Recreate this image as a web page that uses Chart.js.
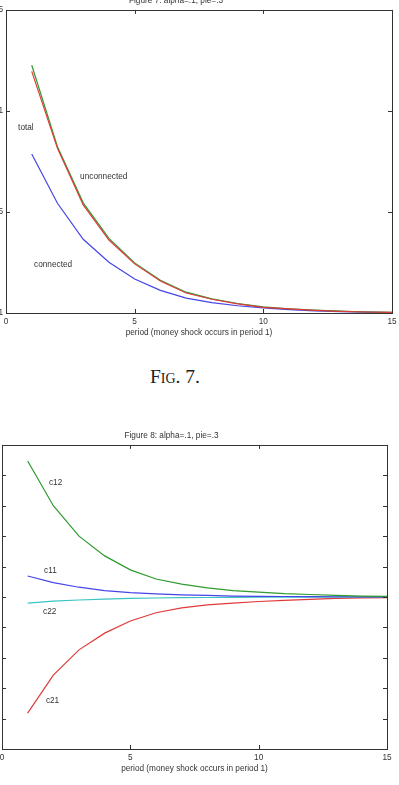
<!DOCTYPE html>
<html>
<head>
<meta charset="utf-8">
<script src="https://cdn.jsdelivr.net/npm/chart.js@4.4.0/dist/chart.umd.min.js"></script>
<style>
  html, body { margin: 0; padding: 0; background: #fff; }
  body { width: 399px; height: 785px; position: relative; overflow: hidden; }
  canvas { position: absolute; }
  #fig7 { left: -40px; top: -6px; }
  #fig8 { left: -44px; top: 421px; }
  #caption7 {
    position: absolute; left: 150px; top: 366px;
    font-family: 'Liberation Serif', 'DejaVu Serif', serif;
    font-size: 19.5px; font-variant: small-caps; color: #222;
    white-space: nowrap;
  }
</style>
</head>
<body>
<canvas id="fig7" width="450" height="350"></canvas>
<div id="caption7">Fig. 7.</div>
<canvas id="fig8" width="450" height="357"></canvas>
<script>
// periods after the money shock
const periods = [1, 2, 3, 4, 5, 6, 7, 8, 9, 10, 11, 12, 13, 14, 15];

// figure 7
const total7 = [1.01226, 1.00823, 1.00545, 1.00369, 1.00248, 1.00162, 1.00103, 1.00070, 1.00047, 1.00030, 1.00021, 1.00014, 1.00009, 1.00005, 1.00003];
const unconnected7 = [1.01196, 1.00815, 1.00535, 1.00361, 1.00243, 1.00158, 1.00099, 1.00068, 1.00045, 1.00028, 1.00020, 1.00013, 1.00008, 1.00005, 1.00003];
const connected7 = [1.00787, 1.00543, 1.00365, 1.00251, 1.00168, 1.00112, 1.00074, 1.00051, 1.00036, 1.00025, 1.00017, 1.00011, 1.00007, 1.00004, 1.00002];
const xTicks = [0, 5, 10, 15];
const yTicks7 = [1, 1.005, 1.01, 1.015];

// figure 8
const c12 = [4.47, 3.0, 2.0, 1.35, 0.89, 0.59, 0.42, 0.30, 0.21, 0.16, 0.11, 0.08, 0.05, 0.03, 0.02];
const c11 = [0.69, 0.47, 0.32, 0.21, 0.14, 0.10, 0.07, 0.05, 0.03, 0.02, 0.015, 0.01, 0.007, 0.005, 0.003];
const c22 = [-0.20, -0.14, -0.10, -0.07, -0.05, -0.035, -0.025, -0.018, -0.012, -0.008, -0.006, -0.004, -0.003, -0.002, -0.001];
const c21 = [-3.82, -2.57, -1.74, -1.19, -0.79, -0.52, -0.36, -0.26, -0.20, -0.15, -0.11, -0.08, -0.05, -0.03, -0.02];
const yTicks8 = [-5, -4, -3, -2, -1, 0, 1, 2, 3, 4, 5];

const FONT = "'Liberation Sans', Arial, sans-serif";
const INK = '#333';

function toPoints(values) {
    return periods.map((p, i) => ({ x: p, y: values[i] }));
}

function line(label, values, color) {
    return {
        label: label,
        data: toPoints(values),
        borderColor: color,
        borderWidth: 1.2,
        pointRadius: 0,
        tension: 0,
        fill: false
    };
}

// gnuplot style box with inward ticks + text labels
const framePlugin = {
    id: 'frame',
    afterDatasetsDraw(chart, args, opts) {
        const { ctx, chartArea: a, scales: { x, y } } = chart;
        ctx.save();
        ctx.strokeStyle = INK;
        ctx.lineWidth = 1;
        ctx.beginPath();
        x.ticks.forEach(t => {
            const px = Math.round(x.getPixelForValue(t.value)) + 0.5;
            ctx.moveTo(px, a.bottom); ctx.lineTo(px, a.bottom - 4);
            ctx.moveTo(px, a.top); ctx.lineTo(px, a.top + 4);
        });
        y.ticks.forEach(t => {
            const py = Math.round(y.getPixelForValue(t.value)) + 0.5;
            ctx.moveTo(a.left, py); ctx.lineTo(a.left + 4, py);
            ctx.moveTo(a.right, py); ctx.lineTo(a.right - 4, py);
        });
        ctx.stroke();
        ctx.strokeRect(Math.round(a.left) + 0.5, Math.round(a.top) + 0.5,
            Math.round(a.right - a.left), Math.round(a.bottom - a.top));

        ctx.fillStyle = INK;
        ctx.font = '8.25px ' + FONT;
        ctx.textAlign = 'left';
        ctx.textBaseline = 'middle';
        (opts.notes || []).forEach(n => {
            ctx.fillText(n.text, x.getPixelForValue(n.x), y.getPixelForValue(n.y));
        });
        ctx.restore();
    }
};

function makeChart(id, datasets, cfg) {
    const ctx = document.getElementById(id).getContext('2d');
    return new Chart(ctx, {
        type: 'line',
        data: { datasets: datasets },
        options: {
            responsive: false,
            animation: false,
            devicePixelRatio: 1,
            layout: { padding: { left: 0, right: cfg.padRight, top: 0, bottom: 0 } },
            plugins: {
                legend: { display: false },
                tooltip: { enabled: false },
                title: {
                    display: true,
                    text: cfg.title,
                    color: INK,
                    font: { family: FONT, size: 8.25, weight: 'normal' },
                    padding: cfg.titlePad
                },
                frame: { notes: cfg.notes }
            },
            scales: {
                x: {
                    type: 'linear',
                    min: 0,
                    max: 15,
                    grid: { display: false, drawTicks: false },
                    border: { display: false },
                    afterBuildTicks: s => { s.ticks = xTicks.map(v => ({ value: v })); },
                    afterFit: s => { s.height = cfg.xHeight; },
                    ticks: { color: INK, padding: 4, maxRotation: 0, font: { family: FONT, size: 8.25 } },
                    title: {
                        display: true,
                        text: 'period (money shock occurs in period 1)',
                        color: INK,
                        font: { family: FONT, size: 8.25 },
                        padding: { top: 0, bottom: cfg.xTitlePad }
                    }
                },
                y: {
                    type: 'linear',
                    min: cfg.yTicks[0],
                    max: cfg.yTicks[cfg.yTicks.length - 1],
                    grid: { display: false, drawTicks: false },
                    border: { display: false },
                    afterBuildTicks: s => { s.ticks = cfg.yTicks.map(v => ({ value: v })); },
                    afterFit: s => { s.width = 46; },
                    ticks: {
                        color: INK, padding: 3,
                        font: { family: FONT, size: 8.25 },
                        callback: v => String(+v.toFixed(3))
                    }
                }
            }
        },
        plugins: [framePlugin]
    });
}

makeChart('fig7', [
    line('unconnected', unconnected7, '#e03a3a'),
    line('total', total7, '#2f9a2f'),
    line('connected', connected7, '#4545e8')
], {
    title: 'Figure 7: alpha=.1, pie=.3',
    titlePad: { top: 2, bottom: 4 },
    padRight: 18,
    xHeight: 31,
    xTitlePad: 6,
    yTicks: yTicks7,
    notes: [
        { text: 'total', x: 0.47, y: 1.00916 },
        { text: 'unconnected', x: 2.88, y: 1.00673 },
        { text: 'connected', x: 1.09, y: 1.00238 }
    ]
});

makeChart('fig8', [
    line('c12', c12, '#2f9a2f'),
    line('c11', c11, '#4545e8'),
    line('c22', c22, '#3cc4c4'),
    line('c21', c21, '#e03a3a')
], {
    title: 'Figure 8: alpha=.1, pie=.3',
    titlePad: { top: 10, bottom: 4 },
    padRight: 19,
    xHeight: 29,
    xTitlePad: 4.4,
    yTicks: yTicks8,
    notes: [
        { text: 'c12', x: 1.83, y: 3.75 },
        { text: 'c11', x: 1.64, y: 0.86 },
        { text: 'c22', x: 1.6, y: -0.49 },
        { text: 'c21', x: 1.71, y: -3.42 }
    ]
});
</script>
</body>
</html>
